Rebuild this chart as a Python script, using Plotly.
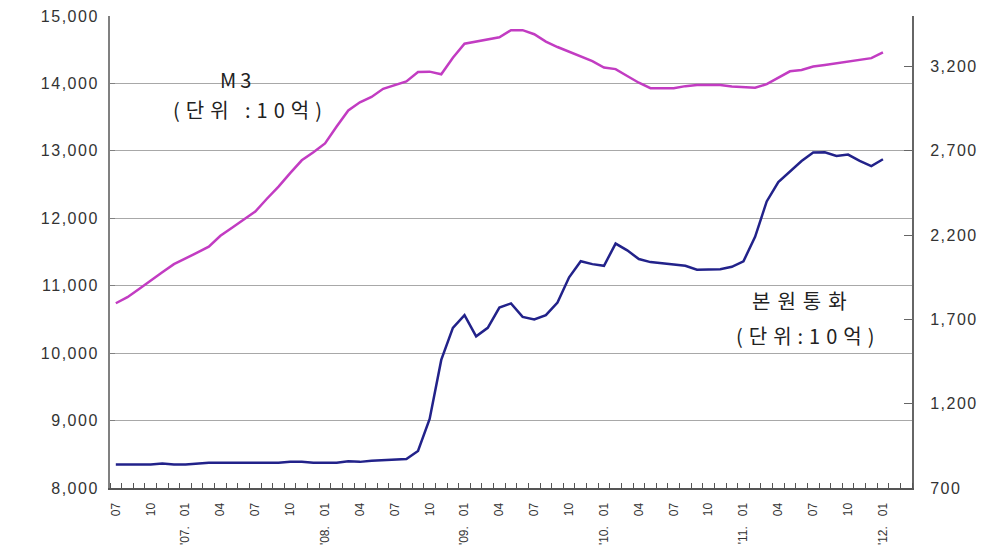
import plotly.graph_objects as go

# Monthly observations, 2006.07 - 2012.01
months = [f"{y}-{m:02d}" for y in range(2006, 2013) for m in range(1, 13)]
months = months[months.index("2006-07"):months.index("2012-01") + 1]

# M3 (단위: 10억원), left axis
m3 = [10740, 10830, 10950, 11080, 11200, 11320, 11400, 11490, 11580, 11740,
      11860, 11980, 12100, 12290, 12470, 12670, 12860, 12980, 13110, 13360,
      13600, 13720, 13800, 13920, 13975, 14030, 14170, 14175, 14135, 14380,
      14590, 14625, 14650, 14685, 14790, 14790, 14730, 14620, 14540, 14470,
      14395, 14330, 14235, 14212, 14110, 14010, 13930, 13925, 13930, 13960,
      13975, 13975, 13975, 13955, 13950, 13935, 13990, 14080, 14180, 14200,
      14250, 14273, 14300, 14320, 14345, 14375, 14460]

# 본원통화 (단위: 10억원), right axis
base = [840, 840, 840, 840, 845, 840, 840, 845, 850, 850,
        850, 850, 850, 850, 850, 855, 855, 850, 850, 850,
        858, 855, 862, 866, 870, 872, 920, 1110, 1460, 1650,
        1725, 1600, 1650, 1770, 1795, 1715, 1700, 1725, 1800, 1950,
        2045, 2028, 2018, 2150, 2110, 2058, 2040, 2032, 2025, 2018,
        1995, 1998, 1998, 2012, 2045, 2190, 2400, 2515, 2575, 2640,
        2690, 2692, 2670, 2678, 2640, 2610, 2650]

left_ticks = [8000, 9000, 10000, 11000, 12000, 13000, 14000, 15000]
right_ticks = [700, 1200, 1700, 2200, 2700, 3200]

x = list(range(len(months)))
nb = "\u00a0" * 3
tickvals, ticktext = [], []
for i, mo in enumerate(months):
    y, m = mo.split("-")
    if int(m) % 3 == 1:
        tickvals.append(i)
        ticktext.append(f"'{y[2:]}.{nb}01" if m == "01" else m)


def spaced(v):
    return f'<span style="letter-spacing:1.5px">{v:,}</span>'


font = "Liberation Sans, Arial, sans-serif"

fig = go.Figure()
fig.add_trace(go.Scatter(x=x, y=m3, mode="lines", name="M3",
                         line=dict(color="#C23CC2", width=2.5)))
fig.add_trace(go.Scatter(x=x, y=base, mode="lines", name="본원통화", yaxis="y2",
                         line=dict(color="#22228A", width=2.5)))

# page body has an 8px margin, so margins are shifted to compensate
fig.update_layout(
    width=1002, height=547,
    margin=dict(l=102, r=98, t=8, b=67),
    paper_bgcolor="white", plot_bgcolor="white",
    showlegend=False,
    font=dict(family=font, color="#333333"),
    xaxis=dict(range=[-0.5, 68.5], tickvals=tickvals, ticktext=ticktext,
               tickangle=-90, tickfont=dict(size=12, color="#333333"),
               ticks="", showgrid=False, zeroline=False, automargin=False,
               ticklabeloverflow="allow",
               showline=True, linecolor="#555555", linewidth=2,
               ticklabelstandoff=8,
               minor=dict(ticks="inside", tick0=-0.5, dtick=1, ticklen=5,
                          tickcolor="#555555", tickwidth=1, showgrid=False)),
    yaxis=dict(range=[8000, 15000], tickvals=left_ticks,
               ticktext=[spaced(v) for v in left_ticks],
               tickfont=dict(size=16, color="#333333"), automargin=False,
               ticklabeloverflow="allow",
               showgrid=True, gridcolor="#A8A8A8", gridwidth=1,
               zeroline=False, showline=True, linecolor="#808080", linewidth=2,
               ticks="inside", ticklen=5, tickcolor="#808080",
               ticklabelstandoff=6),
    yaxis2=dict(range=[700, 3500], overlaying="y", side="right",
                tickvals=right_ticks, ticktext=[spaced(v) for v in right_ticks],
                tickfont=dict(size=16, color="#333333"), automargin=False,
                ticklabeloverflow="allow",
                showgrid=False, zeroline=False,
                showline=True, linecolor="#666666", linewidth=2,
                ticks="inside", ticklen=8, tickcolor="#666666",
                ticklabelstandoff=13),
)

ann_font = dict(family="Noto Sans CJK KR, sans-serif", size=20, color="#222222")
labels = [("M3", 237, 80, 4), ("(단위 :10억)", 250, 109, 6),
          ("본원통화", 803, 300, 7), ("(단위:10억)", 808, 335, 6)]
for txt, cx, cy, sp in labels:
    fig.add_annotation(x=(cx - 110) / 802, y=1 - (cy - 16) / 472,
                       xref="paper", yref="paper",
                       text=f'<span style="letter-spacing:{sp}px">{txt}</span>',
                       showarrow=False, font=ann_font,
                       xanchor="center", yanchor="middle")

fig.write_html("out.html")
